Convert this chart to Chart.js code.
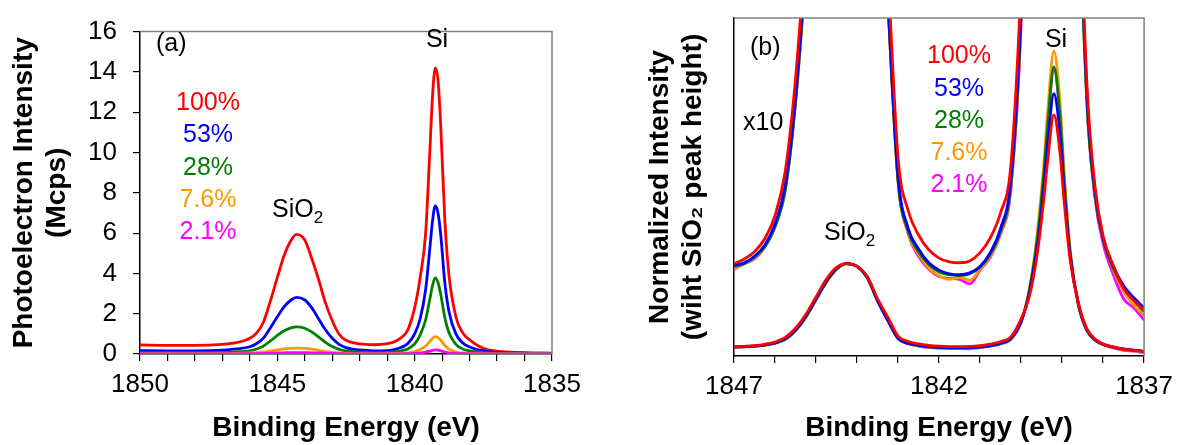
<!DOCTYPE html>
<html>
<head>
<meta charset="utf-8">
<script src="https://cdn.jsdelivr.net/npm/chart.js@4.4.1/dist/chart.umd.min.js"></script>
<style>
  body { margin: 0; background: #fff; }
  .wrap { position: relative; width: 1181px; height: 445px; }
  canvas { position: absolute; top: 0; }
</style>
</head>
<body>
<div class="wrap">
  <canvas id="chartA" width="590" height="445" style="left:0"></canvas>
  <canvas id="chartB" width="591" height="445" style="left:590px"></canvas>
</div>
<script>
// ---- panel (a): raw intensity, Mcps ----
const energyA = [1850, 1849, 1848, 1847, 1846.5, 1846, 1845.75, 1845.5, 1845.25, 1845, 1844.75, 1844.5, 1844.3, 1844, 1843.75, 1843.5, 1843.25, 1843, 1842.75, 1842.5, 1842, 1841.5, 1841, 1840.75, 1840.5, 1840.25, 1840, 1839.8, 1839.6, 1839.45, 1839.35, 1839.25, 1839.15, 1839.05, 1838.9, 1838.75, 1838.5, 1838.25, 1838, 1837.5, 1837, 1836, 1835]
const a100 = [0.45, 0.43, 0.43, 0.48, 0.56, 0.78, 1.05, 1.6, 2.65, 3.8, 4.9, 5.65, 5.94, 5.65, 4.75, 3.7, 2.55, 1.65, 0.98, 0.68, 0.5, 0.46, 0.51, 0.6, 0.8, 1.2, 2.3, 3.8, 6.0, 10.0, 12.8, 14.2, 13.6, 11.3, 6.6, 3.9, 1.85, 1.05, 0.7, 0.28, 0.14, 0.07, 0.04]
const a53 = [0.17, 0.16, 0.16, 0.19, 0.25, 0.36, 0.52, 0.8, 1.3, 1.85, 2.35, 2.68, 2.81, 2.68, 2.3, 1.75, 1.2, 0.78, 0.48, 0.32, 0.2, 0.16, 0.17, 0.22, 0.32, 0.52, 1.0, 1.75, 3.2, 5.2, 6.6, 7.35, 7.0, 5.9, 3.5, 2.1, 1.0, 0.55, 0.35, 0.15, 0.08, 0.04, 0.03]
const a28 = [0.07, 0.07, 0.07, 0.08, 0.11, 0.16, 0.25, 0.4, 0.65, 0.92, 1.15, 1.3, 1.35, 1.28, 1.1, 0.85, 0.58, 0.37, 0.23, 0.15, 0.09, 0.07, 0.08, 0.1, 0.15, 0.25, 0.5, 0.95, 1.7, 2.7, 3.4, 3.78, 3.55, 2.95, 1.8, 1.05, 0.48, 0.25, 0.15, 0.07, 0.04, 0.02, 0.02]
const a76 = [0.02, 0.02, 0.02, 0.02, 0.03, 0.05, 0.07, 0.1, 0.15, 0.2, 0.25, 0.28, 0.29, 0.28, 0.24, 0.18, 0.12, 0.08, 0.05, 0.03, 0.02, 0.02, 0.02, 0.03, 0.04, 0.06, 0.12, 0.22, 0.4, 0.62, 0.78, 0.86, 0.81, 0.68, 0.42, 0.24, 0.1, 0.05, 0.03, 0.02, 0.01, 0.01, 0.01]
const a21 = [0.01, 0.01, 0.01, 0.01, 0.01, 0.02, 0.02, 0.03, 0.04, 0.05, 0.06, 0.07, 0.07, 0.07, 0.06, 0.05, 0.04, 0.03, 0.02, 0.01, 0.01, 0.01, 0.01, 0.01, 0.01, 0.02, 0.03, 0.05, 0.09, 0.14, 0.18, 0.2, 0.19, 0.16, 0.1, 0.06, 0.03, 0.02, 0.01, 0.01, 0.01, 0.01, 0.01]

// ---- panel (b): normalized to SiO2 peak height ----
const energyB = [1847, 1846.75, 1846.5, 1846.25, 1846, 1845.75, 1845.5, 1845.25, 1845, 1844.75, 1844.5, 1844.25, 1844, 1843.75, 1843.5, 1843.25, 1843, 1842.75, 1842.5, 1842.25, 1842, 1841.75, 1841.5, 1841.25, 1841, 1840.75, 1840.5, 1840.25, 1840, 1839.8, 1839.6, 1839.45, 1839.35, 1839.2, 1839.05, 1838.95, 1838.8, 1838.6, 1838.4, 1838.2, 1838, 1837.75, 1837.5, 1837.25, 1837]
const n100 = [0.100, 0.105, 0.113, 0.127, 0.152, 0.2, 0.3, 0.45, 0.64, 0.83, 0.96, 1.0, 0.97, 0.86, 0.62, 0.42, 0.215, 0.157, 0.131, 0.115, 0.106, 0.102, 0.101, 0.103, 0.112, 0.128, 0.155, 0.206, 0.40, 0.64, 1.12, 1.68, 2.12, 2.61, 2.2, 1.68, 1.03, 0.57, 0.3, 0.185, 0.13, 0.098, 0.073, 0.06, 0.05]
const n53 = [0.098, 0.101, 0.108, 0.12, 0.143, 0.185, 0.28, 0.43, 0.62, 0.81, 0.95, 1.0, 0.97, 0.85, 0.6, 0.39, 0.195, 0.138, 0.116, 0.101, 0.093, 0.089, 0.088, 0.09, 0.097, 0.112, 0.138, 0.19, 0.375, 0.68, 1.2, 1.8, 2.3, 2.84, 2.4, 1.8, 1.08, 0.56, 0.29, 0.18, 0.128, 0.097, 0.076, 0.063, 0.052]
const n28 = [0.097, 0.1, 0.107, 0.118, 0.14, 0.18, 0.275, 0.42, 0.61, 0.8, 0.94, 1.0, 0.97, 0.85, 0.6, 0.385, 0.19, 0.135, 0.113, 0.099, 0.091, 0.088, 0.087, 0.089, 0.096, 0.11, 0.135, 0.185, 0.37, 0.7, 1.28, 1.95, 2.5, 3.13, 2.6, 1.9, 1.1, 0.55, 0.28, 0.175, 0.127, 0.095, 0.074, 0.06, 0.048]
const n76 = [0.095, 0.1, 0.106, 0.118, 0.14, 0.18, 0.275, 0.42, 0.61, 0.8, 0.94, 1.0, 0.97, 0.85, 0.6, 0.385, 0.19, 0.133, 0.11, 0.095, 0.087, 0.083, 0.085, 0.082, 0.094, 0.108, 0.133, 0.183, 0.37, 0.72, 1.35, 2.05, 2.65, 3.3, 2.75, 2.0, 1.14, 0.56, 0.285, 0.178, 0.128, 0.093, 0.07, 0.055, 0.044]
const n21 = [0.094, 0.1, 0.105, 0.118, 0.14, 0.18, 0.275, 0.42, 0.61, 0.8, 0.94, 1.0, 0.97, 0.85, 0.6, 0.385, 0.19, 0.132, 0.108, 0.094, 0.086, 0.084, 0.083, 0.078, 0.093, 0.107, 0.132, 0.18, 0.36, 0.7, 1.28, 1.95, 2.5, 3.1, 2.6, 1.9, 1.1, 0.55, 0.28, 0.172, 0.122, 0.088, 0.062, 0.052, 0.039]
const zoomFactor = 10   // the "x10" copies in panel (b)

const labels = ["100%", "53%", "28%", "7.6%", "2.1%"]
const colors = ["#ff0000", "#0000ff", "#008000", "#ff9900", "#ff00ff"]
const FONT = "'Liberation Sans', Arial, sans-serif"

const pts = (xs, ys, k = 1) => xs.map((x, i) => ({ x: x, y: ys[i] * k }))
const line = (xs, ys, color, k) => ({
  data: pts(xs, ys, k),
  borderColor: color,
  borderWidth: 2.8,
  pointRadius: 0,
  cubicInterpolationMode: "monotone",
  fill: false
})

// draws the top/right frame plus the text notes of each panel
const notesPlugin = {
  id: "notes",
  afterDraw(chart, args, opts) {
    const ctx = chart.ctx
    const ca = chart.chartArea
    ctx.save()
    ctx.strokeStyle = "#7f7f7f"
    ctx.lineWidth = 1.5
    ctx.beginPath()
    ctx.moveTo(ca.left, ca.top)
    ctx.lineTo(ca.right, ca.top)
    ctx.lineTo(ca.right, ca.bottom)
    ctx.stroke()
    ctx.font = "25px " + FONT
    ctx.textBaseline = "alphabetic"
    opts.items.forEach((t) => {
      ctx.fillStyle = t.color || "#000"
      ctx.textAlign = t.align || "left"
      if (t.sub) {
        ctx.textAlign = "left"
        ctx.fillText(t.text, t.x, t.y)
        const w = ctx.measureText(t.text).width
        ctx.font = "17px " + FONT
        ctx.fillText(t.sub, t.x + w, t.y + 6)
        ctx.font = "25px " + FONT
      } else {
        ctx.fillText(t.text, t.x, t.y)
      }
    })
    ctx.restore()
  }
}

const xAxis = (min, max, every, height) => ({
  type: "linear",
  reverse: true,
  min: min,
  max: max,
  afterFit: (s) => { s.height = height },
  border: { color: "#000", width: 1.5 },
  grid: { drawOnChartArea: false, tickLength: 7, color: "#000", lineWidth: 1.2 },
  ticks: {
    stepSize: 1,
    autoSkip: false,
    maxRotation: 0,
    minRotation: 0,
    padding: 8,
    color: "#000",
    font: { family: FONT, size: 26 },
    callback: (v) => ((max - v) % every === 0 ? String(v) : "")
  },
  title: {
    display: true,
    text: "Binding Energy (eV)",
    color: "#000",
    padding: { top: 0, bottom: 0 },
    font: { family: FONT, size: 28, weight: "bold" }
  }
})

// panel (a)
new Chart(document.getElementById("chartA"), {
  type: "line",
  data: {
    datasets: [
      line(energyA, a21, colors[4]),
      line(energyA, a76, colors[3]),
      line(energyA, a28, colors[2]),
      line(energyA, a53, colors[1]),
      line(energyA, a100, colors[0])
    ]
  },
  options: {
    responsive: false,
    animation: false,
    devicePixelRatio: 1,
    layout: { padding: { left: 0, right: 38, top: 18, bottom: 0 } },
    plugins: {
      legend: { display: false },
      tooltip: { enabled: false },
      notes: {
        items: [
          { text: "(a)", x: 156, y: 51 },
          { text: "Si", x: 437, y: 47, align: "center" },
          { text: "SiO", sub: "2", x: 272, y: 217 },
          { text: labels[0], x: 208, y: 110, align: "center", color: colors[0] },
          { text: labels[1], x: 208, y: 142, align: "center", color: colors[1] },
          { text: labels[2], x: 208, y: 175, align: "center", color: colors[2] },
          { text: labels[3], x: 208, y: 207, align: "center", color: colors[3] },
          { text: labels[4], x: 208, y: 239, align: "center", color: colors[4] }
        ]
      }
    },
    scales: {
      x: xAxis(1835, 1850, 5, 91),
      y: {
        min: 0,
        max: 16,
        afterFit: (s) => { s.width = 140 },
        border: { color: "#000", width: 1.5 },
        grid: { drawOnChartArea: false, tickLength: 7, color: "#000", lineWidth: 1.2 },
        ticks: { stepSize: 2, padding: 16, color: "#000", font: { family: FONT, size: 26 } },
        title: {
          display: true,
          text: ["Photoelectron Intensity", "(Mcps)"],
          color: "#000",
          padding: { top: 7, bottom: 0 },
          font: { family: FONT, size: 28, weight: "bold" }
        }
      }
    }
  },
  plugins: [notesPlugin]
})

// panel (b)
const normSets = [n100, n53, n28, n76, n21]
const dsB = []
normSets.forEach((s, i) => {
  dsB.push(line(energyB, s, colors[i], 1))
  dsB.push(line(energyB, s, colors[i], zoomFactor))
})

new Chart(document.getElementById("chartB"), {
  type: "line",
  data: { datasets: dsB },
  options: {
    responsive: false,
    animation: false,
    devicePixelRatio: 1,
    layout: { padding: { left: 0, right: 33, top: 18, bottom: 0 } },
    plugins: {
      legend: { display: false },
      tooltip: { enabled: false },
      notes: {
        items: [
          { text: "(b)", x: 160, y: 55 },
          { text: "x10", x: 153, y: 130 },
          { text: "Si", x: 466, y: 47, align: "center" },
          { text: "SiO", sub: "2", x: 234, y: 240 },
          { text: labels[0], x: 369, y: 63, align: "center", color: colors[0] },
          { text: labels[1], x: 369, y: 96, align: "center", color: colors[1] },
          { text: labels[2], x: 369, y: 128, align: "center", color: colors[2] },
          { text: labels[3], x: 369, y: 160, align: "center", color: colors[3] },
          { text: labels[4], x: 369, y: 192, align: "center", color: colors[4] }
        ]
      }
    },
    scales: {
      x: xAxis(1837, 1847, 5, 89),
      y: {
        min: 0,
        max: 3.66,
        afterFit: (s) => { s.width = 144 },
        border: { color: "#000", width: 1.5 },
        grid: { display: false },
        ticks: { display: false },
        title: {
          display: true,
          text: ["Normalized Intensity", "(wiht SiO\u2082 peak height)"],
          color: "#000",
          padding: { top: 53, bottom: 0 },
          font: { family: FONT, size: 28, weight: "bold" }
        }
      }
    }
  },
  plugins: [notesPlugin]
})
</script>
</body>
</html>
